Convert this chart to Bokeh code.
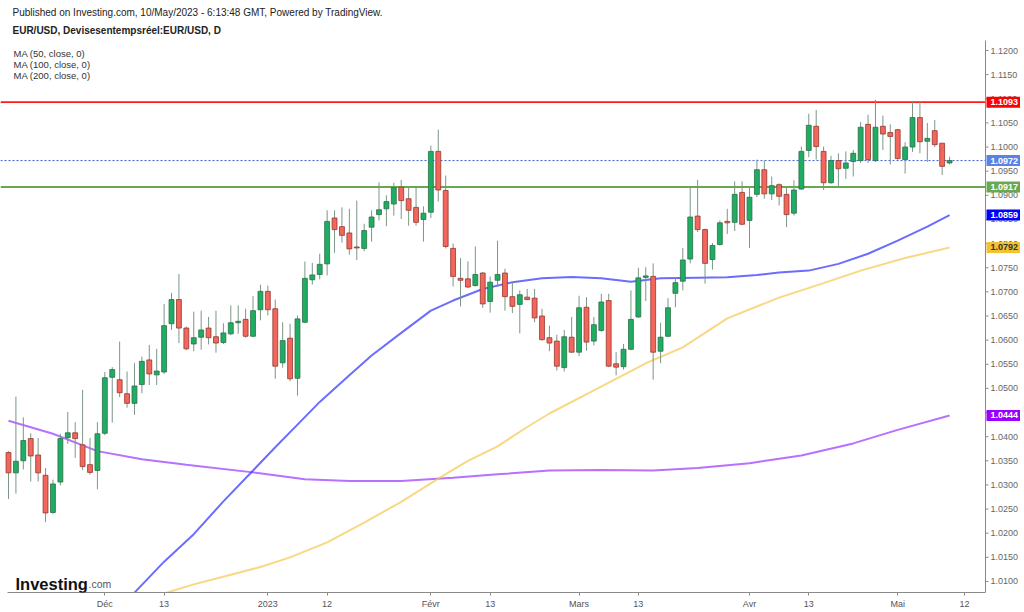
from bokeh.plotting import figure
from bokeh.models import Label, FixedTicker, ColumnDataSource, Range1d
from bokeh.core.properties import value
from bokeh.embed import file_html
from bokeh.resources import INLINE

# ---------------- data (EUR/USD daily, 14 Nov 2022 -> 10 May 2023) ----------------
opens = [1.0367, 1.0325, 1.0350, 1.0396, 1.0362, 1.0320, 1.0243, 1.0306, 1.0398, 1.0408,
         1.0383, 1.0342, 1.0330, 1.0407, 1.0523, 1.0518, 1.0489, 1.0469, 1.0508, 1.0559,
         1.0528, 1.0534, 1.0634, 1.0684, 1.0625, 1.0592, 1.0606, 1.0625, 1.0607, 1.0595,
         1.0613, 1.0636, 1.0643, 1.0608, 1.0663, 1.0701, 1.0665, 1.0553, 1.0604, 1.0521,
         1.0637, 1.0725, 1.0736, 1.0758, 1.0853, 1.0835, 1.0822, 1.0793, 1.0790, 1.0834,
         1.0860, 1.0872, 1.0882, 1.0917, 1.0893, 1.0875, 1.0850, 1.0865, 1.0991, 1.0910,
         1.0790, 1.0728, 1.0727, 1.0713, 1.0739, 1.0680, 1.0724, 1.0739, 1.0690, 1.0674,
         1.0689, 1.0687, 1.0650, 1.0605, 1.0598, 1.0543, 1.0606, 1.0575, 1.0668, 1.0598,
         1.0620, 1.0682, 1.0551, 1.0545, 1.0581, 1.0648, 1.0730, 1.0732, 1.0577, 1.0608,
         1.0697, 1.0722, 1.0768, 1.0857, 1.0829, 1.0767, 1.0798, 1.0846, 1.0844, 1.0906,
         1.0848, 1.0902, 1.0953, 1.0903, 1.0922, 1.0902, 1.0863, 1.0913, 1.0993, 1.1043,
         1.0991, 1.0926, 1.0972, 1.0956, 1.0970, 1.0972, 1.1047, 1.0972, 1.1043, 1.1030,
         1.1036, 1.0974, 1.1000, 1.1061, 1.1012, 1.1034, 1.1008, 1.0967]
highs = [1.0370, 1.0483, 1.0440, 1.0407, 1.0397, 1.0335, 1.0311, 1.0406, 1.0451, 1.0430,
         1.0497, 1.0397, 1.0430, 1.0534, 1.0544, 1.0597, 1.0535, 1.0552, 1.0566, 1.0590,
         1.0582, 1.0675, 1.0698, 1.0737, 1.0628, 1.0659, 1.0661, 1.0648, 1.0661, 1.0635,
         1.0672, 1.0672, 1.0665, 1.0691, 1.0715, 1.0713, 1.0684, 1.0637, 1.0634, 1.0651,
         1.0763, 1.0760, 1.0779, 1.0869, 1.0869, 1.0875, 1.0872, 1.0889, 1.0841, 1.0869,
         1.0927, 1.0900, 1.0926, 1.0932, 1.0917, 1.0917, 1.0877, 1.1003, 1.1036, 1.0941,
         1.0800, 1.0770, 1.0763, 1.0794, 1.0741, 1.0732, 1.0806, 1.0748, 1.0721, 1.0703,
         1.0706, 1.0706, 1.0665, 1.0630, 1.0611, 1.0621, 1.0648, 1.0692, 1.0689, 1.0648,
         1.0696, 1.0696, 1.0575, 1.0592, 1.0703, 1.0750, 1.0751, 1.0759, 1.0636, 1.0687,
         1.0730, 1.0791, 1.0916, 1.0932, 1.0831, 1.0801, 1.0848, 1.0872, 1.0929, 1.0929,
         1.0916, 1.0974, 1.0972, 1.0939, 1.0925, 1.0916, 1.0931, 1.1001, 1.1069, 1.1077,
         1.1001, 1.0982, 1.0987, 1.0991, 1.0994, 1.1052, 1.1067, 1.1098, 1.1065, 1.1047,
         1.1037, 1.1010, 1.1093, 1.1093, 1.1050, 1.1056, 1.1008, 1.0980]
lows = [1.0271, 1.0282, 1.0332, 1.0307, 1.0307, 1.0223, 1.0240, 1.0299, 1.0385, 1.0356,
        1.0331, 1.0321, 1.0291, 1.0403, 1.0429, 1.0482, 1.0460, 1.0445, 1.0490, 1.0507,
        1.0507, 1.0530, 1.0621, 1.0594, 1.0579, 1.0577, 1.0580, 1.0591, 1.0574, 1.0592,
        1.0610, 1.0613, 1.0605, 1.0606, 1.0641, 1.0651, 1.0520, 1.0543, 1.0515, 1.0485,
        1.0635, 1.0715, 1.0726, 1.0734, 1.0781, 1.0802, 1.0777, 1.0766, 1.0784, 1.0804,
        1.0848, 1.0836, 1.0858, 1.0851, 1.0837, 1.0837, 1.0804, 1.0853, 1.0887, 1.0790,
        1.0711, 1.0670, 1.0708, 1.0711, 1.0667, 1.0657, 1.0710, 1.0661, 1.0656, 1.0614,
        1.0683, 1.0637, 1.0599, 1.0577, 1.0537, 1.0535, 1.0574, 1.0567, 1.0578, 1.0589,
        1.0617, 1.0544, 1.0527, 1.0539, 1.0579, 1.0646, 1.0681, 1.0518, 1.0552, 1.0606,
        1.0668, 1.0703, 1.0759, 1.0824, 1.0717, 1.0746, 1.0796, 1.0820, 1.0826, 1.0838,
        1.0791, 1.0896, 1.0893, 1.0890, 1.0879, 1.0834, 1.0858, 1.0911, 1.0979, 1.0974,
        1.0911, 1.0924, 1.0917, 1.0934, 1.0939, 1.0967, 1.0967, 1.0969, 1.0994, 1.0964,
        1.0974, 1.0945, 1.0990, 1.0987, 1.0969, 1.1000, 1.0942, 1.0964]
closes = [1.0325, 1.0349, 1.0392, 1.0360, 1.0325, 1.0242, 1.0302, 1.0396, 1.0408, 1.0396,
          1.0338, 1.0326, 1.0406, 1.0522, 1.0539, 1.0491, 1.0469, 1.0505, 1.0556, 1.0530,
          1.0536, 1.0630, 1.0684, 1.0625, 1.0582, 1.0605, 1.0621, 1.0605, 1.0594, 1.0615,
          1.0636, 1.0639, 1.0608, 1.0661, 1.0701, 1.0663, 1.0546, 1.0599, 1.0520, 1.0644,
          1.0728, 1.0735, 1.0757, 1.0846, 1.0829, 1.0817, 1.0789, 1.0791, 1.0827, 1.0855,
          1.0870, 1.0887, 1.0916, 1.0889, 1.0869, 1.0844, 1.0863, 1.0991, 1.0911, 1.0794,
          1.0732, 1.0724, 1.0710, 1.0736, 1.0675, 1.0720, 1.0736, 1.0690, 1.0670, 1.0694,
          1.0684, 1.0646, 1.0601, 1.0594, 1.0546, 1.0607, 1.0575, 1.0667, 1.0596, 1.0632,
          1.0679, 1.0546, 1.0544, 1.0581, 1.0643, 1.0729, 1.0733, 1.0575, 1.0606, 1.0667,
          1.0719, 1.0766, 1.0855, 1.0829, 1.0759, 1.0796, 1.0843, 1.0843, 1.0902, 1.0840,
          1.0896, 1.0953, 1.0903, 1.0920, 1.0898, 1.0860, 1.0911, 1.0991, 1.1045, 1.1001,
          1.0926, 1.0972, 1.0955, 1.0967, 1.0987, 1.1041, 1.0974, 1.1041, 1.1027, 1.1022,
          1.0976, 1.1000, 1.1061, 1.1011, 1.1018, 1.1005, 1.0960, 1.0972]

ma50_idx = [15, 17, 21, 25, 29, 33, 36, 39, 42, 46, 49, 53, 57, 60, 64, 68, 72, 76, 80,
            84, 88, 93, 97, 101, 104, 108, 112, 116, 120, 124, 127]
ma50_val = [1.0035, 1.0077, 1.0141, 1.0198, 1.0266, 1.0330, 1.0378, 1.0425, 1.0472, 1.0527,
            1.0568, 1.0615, 1.0661, 1.0682, 1.0706, 1.0720, 1.0728, 1.0731, 1.0728, 1.0721,
            1.0728, 1.0729, 1.0730, 1.0735, 1.0740, 1.0744, 1.0758, 1.0779, 1.0806, 1.0835,
            1.0859]
ma100_idx = [19, 21, 25, 30, 34, 38, 43, 48, 53, 58, 62, 66, 70, 73, 79, 86, 91, 97, 104,
             110, 115, 121, 127]
ma100_val = [1.0060, 1.0075, 1.0094, 1.0114, 1.0130, 1.0150, 1.0181, 1.0222, 1.0265, 1.0313,
             1.0350, 1.0380, 1.0420, 1.0448, 1.0496, 1.0552, 1.0585, 1.0645, 1.0688, 1.0718,
             1.0744, 1.0770, 1.0792]
ma200_idx = [0, 6, 12, 18, 24, 33, 40, 46, 53, 60, 66, 73, 80, 87, 93, 100, 107, 114, 120, 127]
ma200_val = [1.0433, 1.0406, 1.0370, 1.0353, 1.0342, 1.0326, 1.0312, 1.0308, 1.0308, 1.0315,
             1.0322, 1.0330, 1.0331, 1.0330, 1.0335, 1.0345, 1.0361, 1.0386, 1.0414, 1.0444]

tick_idx = [13, 21, 35, 43, 57, 65, 77, 85, 100, 108, 120, 129]
tick_lbl = ["Déc", "13", "2023", "12", "Févr", "13", "Mars", "13", "Avr", "13", "Mai", "12"]
price_ticks = [round(1.010 + 0.005 * k, 4) for k in range(23)]

resistance = 1.1093
support = 1.0917
last_price = 1.0972
ma_labels = ["MA (50, close, 0)", "MA (100, close, 0)", "MA (200, close, 0)"]

# ---------------- layout constants ----------------
FRAME_W, FRAME_H = 1020, 592
PX_BAR = 7.41            # pixels per bar
PX_UNIT = 4827.0         # pixels per 1.0 of price
BAR0_PX = 8              # pixel x of first bar centre
X_START = -BAR0_PX / PX_BAR
Y_TOP = 1.12 + 50 / PX_UNIT
Y_BOT = Y_TOP - FRAME_H / PX_UNIT
DX = 1 / PX_BAR
DY = 1 / PX_UNIT
AXIS_X = (985 - BAR0_PX) / PX_BAR
AXIS_TOP = 1.12 + 10 / PX_UNIT

FONT = "Liberation Sans"
UP, UP_LINE = "#1fad63", "#2b6e48"
DN, DN_LINE = "#f3665b", "#93372f"
WICK = "#7b9787"

n = len(closes)
xs = list(range(n))
up = [c >= o for o, c in zip(opens, closes)]
src = ColumnDataSource(dict(
    x=xs, high=highs, low=lows,
    top=[max(o, c) for o, c in zip(opens, closes)],
    bottom=[min(o, c) for o, c in zip(opens, closes)],
    fill=[UP if u else DN for u in up],
    line=[UP_LINE if u else DN_LINE for u in up],
))

p = figure(frame_width=FRAME_W, frame_height=FRAME_H, output_backend="svg",
           toolbar_location=None, y_axis_location=None,
           x_range=Range1d(X_START, X_START + FRAME_W / PX_BAR),
           y_range=Range1d(Y_BOT, Y_TOP),
           min_border_left=0, min_border_top=0, min_border_right=0, min_border_bottom=0)
p.outline_line_color = None
p.grid.visible = False
p.background_fill_color = "white"
p.border_fill_color = "white"

# moving averages
p.line(ma200_idx, ma200_val, line_color="#a040ff", line_alpha=0.75, line_width=2)
p.line(ma100_idx, ma100_val, line_color="#f5c84e", line_alpha=0.7, line_width=2)
p.line(ma50_idx, ma50_val, line_color="#3b3bff", line_alpha=0.75, line_width=2)

# horizontal levels (stop at the price axis)
p.segment(x0=[X_START] * 3, x1=[AXIS_X] * 3,
          y0=[resistance, support, last_price], y1=[resistance, support, last_price],
          line_color=["#ff1a1a", "#6aa84f", "#3d5fd9"], line_width=[1.6, 2, 1])
p.segment(x0=[X_START], x1=[AXIS_X], y0=[last_price], y1=[last_price],
          line_color="white", line_width=1.2, line_dash="2 2", line_dash_offset=2)

# candles
p.segment(x0="x", x1="x", y0="low", y1="high", source=src, line_color=WICK, line_width=1)
p.vbar(x="x", width=0.66, top="top", bottom="bottom", source=src,
       fill_color="fill", line_color="line", line_width=0.8)

# bottom axis
xa = p.xaxis[0]
xa.ticker = FixedTicker(ticks=tick_idx)
xa.major_label_overrides = {i: l for i, l in zip(tick_idx, tick_lbl)}
xa.bounds = ((7 - BAR0_PX) / PX_BAR, AXIS_X)
xa.minor_tick_line_color = None
xa.major_tick_out = 3
xa.major_tick_in = 0
xa.major_label_standoff = 3
xa.major_label_text_font = FONT
xa.major_label_text_font_size = "9px"
xa.major_label_text_color = "#555555"
xa.axis_line_color = "#8a8a8a"
xa.major_tick_line_color = "#8a8a8a"

# right price axis (drawn inside the frame)
p.segment(x0=[AXIS_X], x1=[AXIS_X], y0=[Y_BOT], y1=[AXIS_TOP], line_color="#8a8a8a", line_width=1)
p.segment(x0=[AXIS_X] * len(price_ticks), x1=[AXIS_X + 3 * DX] * len(price_ticks),
          y0=price_ticks, y1=price_ticks, line_color="#8a8a8a", line_width=1)
p.text(x=[AXIS_X + 5 * DX] * len(price_ticks), y=price_ticks,
       text=[f"{t:.4f}" for t in price_ticks], text_font=value(FONT),
       text_font_size="9px", text_color="#666666", text_baseline="middle")

# price tags
tag_vals = [resistance, last_price, support, ma50_val[-1], ma100_val[-1], ma200_val[-1]]
tag_bg = ["#ff0000", "#5a83e6", "#6aa84f", "#0000ff", "#f1c232", "#9900ff"]
tag_fg = ["white", "white", "white", "white", "#333333", "white"]
p.quad(left=[AXIS_X + 1 * DX] * 6, right=[AXIS_X + 35 * DX] * 6,
       bottom=[v - 5.5 * DY for v in tag_vals], top=[v + 5.5 * DY for v in tag_vals],
       fill_color=tag_bg, line_color=None)
p.text(x=[AXIS_X + 5 * DX] * 6, y=tag_vals, text=[f"{v:.4f}" for v in tag_vals],
       text_font=value(FONT), text_font_size="9px", text_font_style="bold",
       text_color=tag_fg, text_baseline="middle")

# header texts (screen units measured from frame left / frame bottom)
def sy(page_y):
    return FRAME_H - page_y

p.add_layout(Label(x=12, y=sy(12), x_units="screen", y_units="screen",
                   text="Published on Investing.com, 10/May/2023 - 6:13:48 GMT, Powered by TradingView.",
                   text_font=FONT, text_font_size="10px", text_color="#222222", text_baseline="middle"))
p.add_layout(Label(x=12, y=sy(30), x_units="screen", y_units="screen",
                   text="EUR/USD, Devisesentempsréel:EUR/USD, D",
                   text_font=FONT, text_font_size="10px", text_font_style="bold",
                   text_color="#222222", text_baseline="middle"))
for k, t in enumerate(ma_labels):
    p.add_layout(Label(x=13, y=sy(53 + 11 * k), x_units="screen", y_units="screen",
                       text=t, text_font=FONT, text_font_size="9.5px",
                       text_color="#333333", text_baseline="middle"))

# logo
p.add_layout(Label(x=15, y=sy(583), x_units="screen", y_units="screen", text="Investing",
                   text_font=FONT, text_font_size="16.5px", text_font_style="bold",
                   text_color="#111111", text_baseline="alphabetic"))
p.add_layout(Label(x=88, y=sy(583), x_units="screen", y_units="screen", text=".com",
                   text_font=FONT, text_font_size="10.5px", text_color="#555555",
                   text_baseline="alphabetic"))

open("out.html", "w").write(file_html(p, INLINE))
